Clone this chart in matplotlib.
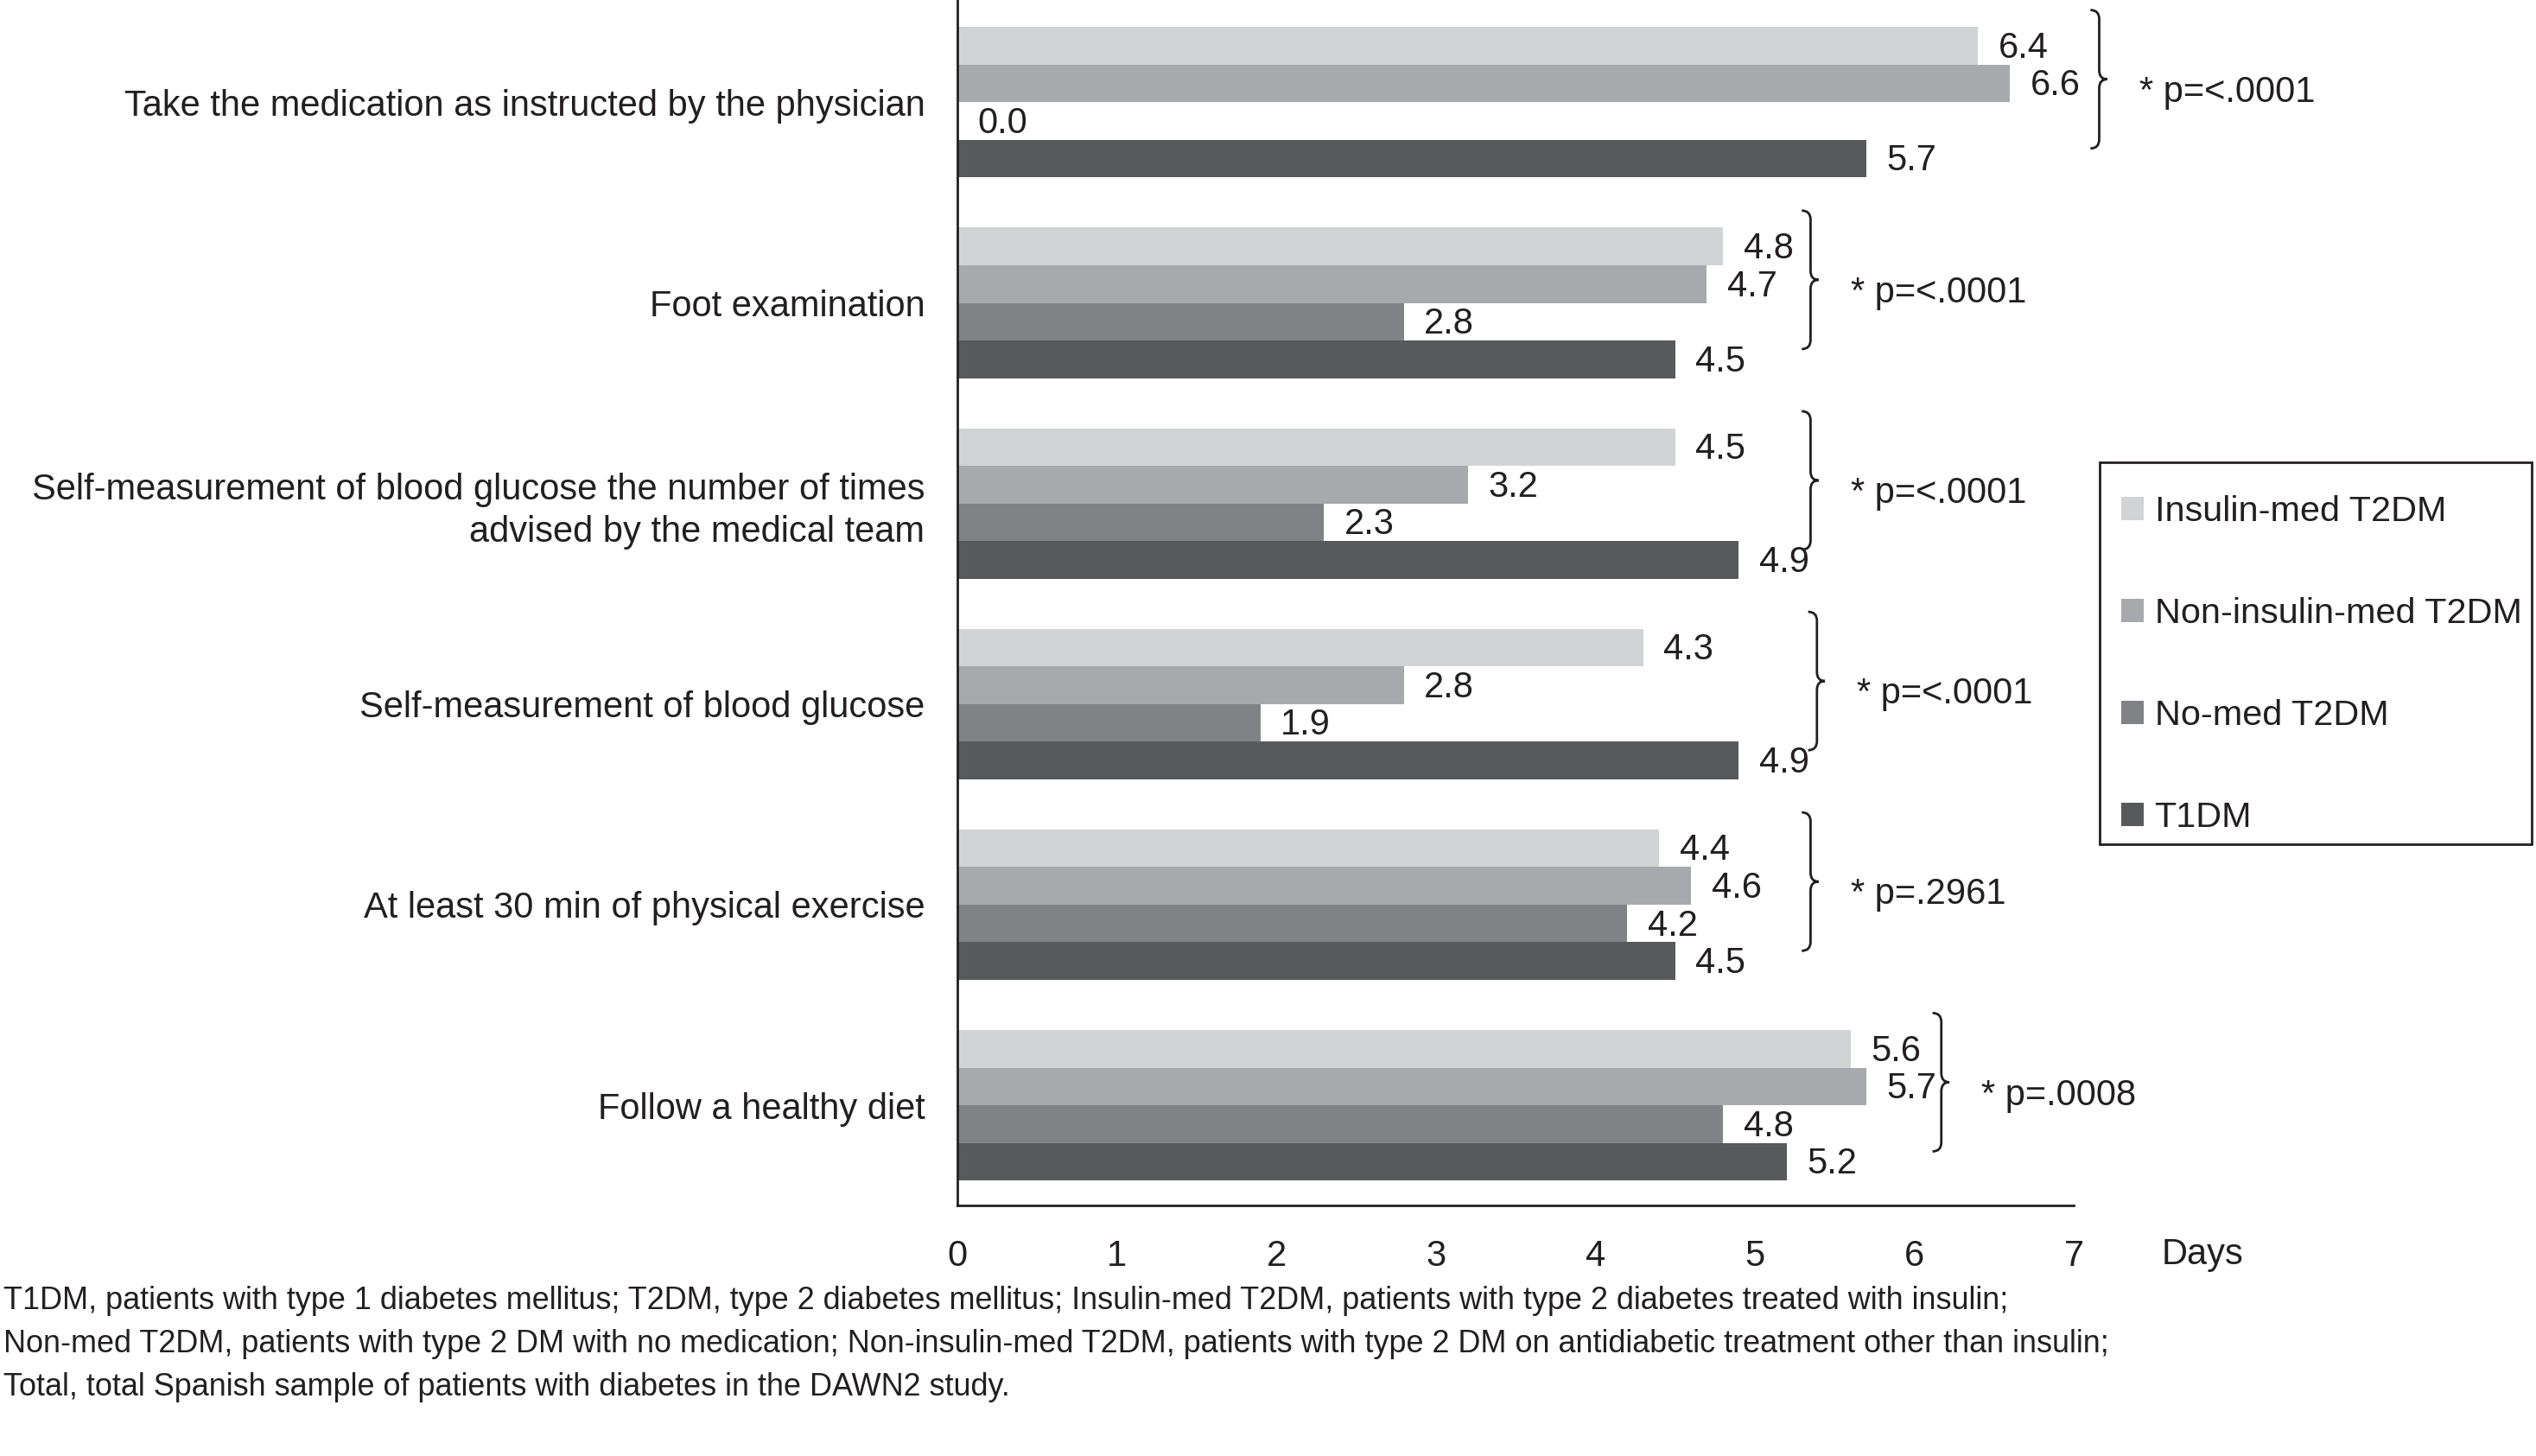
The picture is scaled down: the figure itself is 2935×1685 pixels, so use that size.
import matplotlib
matplotlib.use('Agg')
import matplotlib.pyplot as plt
from matplotlib.path import Path
from matplotlib.patches import PathPatch, Patch, Rectangle
import numpy as np

plt.rcParams['font.family'] = ['Liberation Sans', 'DejaVu Sans']

# data
categories = ['Take the medication as instructed by the physician',
              'Foot examination',
              'Self-measurement of blood glucose the number of times\nadvised by the medical team',
              'Self-measurement of blood glucose',
              'At least 30 min of physical exercise',
              'Follow a healthy diet']
series = ['Insulin-med T2DM', 'Non-insulin-med T2DM', 'No-med T2DM', 'T1DM']
insulin_med = [6.4, 4.8, 4.5, 4.3, 4.4, 5.6]
non_insulin_med = [6.6, 4.7, 3.2, 2.8, 4.6, 5.7]
no_med = [0.0, 2.8, 2.3, 1.9, 4.2, 4.8]
t1dm = [5.7, 4.5, 4.9, 4.9, 4.5, 5.2]
p_values = ['* p=<.0001', '* p=<.0001', '* p=<.0001', '* p=<.0001', '* p=.2961', '* p=.0008']
xticks = [0, 1, 2, 3, 4, 5, 6, 7]

# where the braces sit (days)
brace_x = [7.16, 5.35, 5.35, 5.39, 5.35, 6.17]

colors = ['#d1d3d4', '#a7a9ac', '#808285', '#58595b']
ink = '#231f20'
fs = 30

fig = plt.figure(figsize=(29.35, 16.85), dpi=100)
ax = fig.add_axes([0.3775, 0.172, 0.8177 - 0.3775, 0.828])

y = np.arange(len(categories))
h = 0.1875
all_vals = [insulin_med, non_insulin_med, no_med, t1dm]
for i, (vals, name, c) in enumerate(zip(all_vals, series, colors)):
    yy = y + (i - 1.5) * h
    ax.barh(yy, vals, height=h, color=c, label=name, linewidth=0)
    for yv, v in zip(yy, vals):
        ax.annotate(f'{v:.1f}', (v, yv), xytext=(17, -2), textcoords='offset points',
                    ha='left', va='center', fontsize=fs, color=ink)


def brace(ax, x, top, bot, tip):
    w = 0.055
    t = 0.05
    r = 0.045
    verts = [(x - w, top), (x, top), (x, top + r),
             (x, tip - r), (x, tip), (x + t, tip),
             (x, tip), (x, tip + r),
             (x, bot - r), (x, bot), (x - w, bot)]
    codes = [Path.MOVETO, Path.CURVE3, Path.CURVE3,
             Path.LINETO, Path.CURVE3, Path.CURVE3,
             Path.CURVE3, Path.CURVE3,
             Path.LINETO, Path.CURVE3, Path.CURVE3]
    ax.add_patch(PathPatch(Path(verts, codes), fill=False, edgecolor=ink,
                           linewidth=2, clip_on=False, capstyle='butt'))


for yc, bx, p in zip(y, brace_x, p_values):
    top, bot = yc - 0.46, yc + 0.23
    tip = (top + bot) / 2
    brace(ax, bx, top, bot, tip)
    ax.text(bx + 0.25, yc - 0.05, p, ha='left', va='center', fontsize=fs, color=ink, clip_on=False)

ax.set_xlim(0, 7)
ax.set_ylim(5.5, -0.51)
ax.set_xticks(xticks)
ax.set_xticklabels([str(t) for t in xticks], fontsize=fs, color=ink)
ax.set_yticks(y)
ax.set_yticklabels(categories, fontsize=fs, color=ink, linespacing=1.3)
ax.tick_params(axis='both', length=0)
ax.tick_params(axis='x', pad=28)
ax.tick_params(axis='y', pad=27)
for s in ['top', 'right']:
    ax.spines[s].set_visible(False)
for s in ['left', 'bottom']:
    ax.spines[s].set_linewidth(2)
    ax.spines[s].set_color(ink)
ax.text(7.55, -0.041, 'Days', transform=ax.get_xaxis_transform(), ha='left', va='center',
        fontsize=fs, color=ink)

handles = [Patch(facecolor=c, edgecolor='none') for c in colors]
leg = fig.legend(handles, series, loc='upper left', bbox_to_anchor=(0.828, 0.6745),
                 fontsize=29.8, frameon=False, borderaxespad=0,
                 handlelength=0.62, handleheight=0.62, handletextpad=0.31,
                 labelspacing=1.93, borderpad=0.6)
for t in leg.get_texts():
    t.set_color(ink)
# legend box drawn separately so its right edge stays inside the figure
fig.patches.append(Rectangle((0.8278, 0.42), 0.9982 - 0.8278, 0.6822 - 0.42,
                             transform=fig.transFigure, fill=False,
                             edgecolor=ink, linewidth=2))

foot = ['T1DM, patients with type 1 diabetes mellitus; T2DM, type 2 diabetes mellitus; Insulin-med T2DM, patients with type 2 diabetes treated with insulin;',
        'Non-med T2DM, patients with type 2 DM with no medication; Non-insulin-med T2DM, patients with type 2 DM on antidiabetic treatment other than insulin;',
        'Total, total Spanish sample of patients with diabetes in the DAWN2 study.']
for k, line in enumerate(foot):
    fig.text(0.0015, 0.1068 - k * 0.0298, line, ha='left', va='center', fontsize=25.9, color=ink)

fig.savefig('out.png', dpi=100)
